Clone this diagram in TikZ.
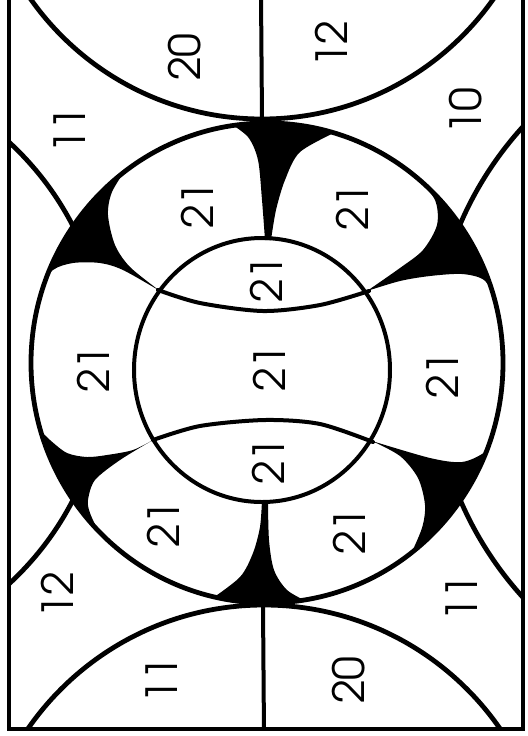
\documentclass[tikz,border=0pt]{standalone}
\usepackage{tikz}
\usetikzlibrary{calc}
\newcommand{\agfont}{\fontencoding{T1}\fontfamily{pag}\fontsize{21.5}{21.5}\selectfont}

\begin{document}
\begin{tikzpicture}[x=0.5pt,y=-0.5pt,
  num/.style={font=\agfont,rotate=90,inner sep=0pt},
  rim/.style={line width=2.4pt},
  seam/.style={line width=2pt,line cap=round}]
  \clip (0,0) rectangle (528,736);
  \begin{scope}
    \clip (9,-10) rectangle (523,729);
    \draw[rim] (262,-164) circle[radius=283];
    \draw[rim] (264,892) circle[radius=287];
    \draw[rim] (-194,363) circle[radius=300];
    \draw[rim] (782,362) circle[radius=350];
    \draw[seam] (261,-5) -- (262,118);
    \draw[seam] (263,605) -- (264,735);
  \end{scope}
  \draw[rim] (9,-10) rectangle (523,729);
  \fill[white] (267,363) ellipse[x radius=236,y radius=240];
  \begin{scope}
    \clip (267,363) ellipse[x radius=236,y radius=240];
    \fill plot[smooth] coordinates {(228,122) (248,137) (258,160) (262,200) (265,240)}
      -- plot[smooth] coordinates {(271,240) (276,210) (285,180) (300,152) (338,131)}
      -- (338,100) -- (228,100) -- cycle;
    \fill plot[smooth] coordinates {(128,166) (112,192) (108,215) (115,245) (130,267) (160,291)}
      -- plot[smooth] coordinates {(160,291) (123,270) (100,263) (73,263) (53,270) (38,290)}
      -- (10,290) -- (90,140) -- cycle;
    \fill plot[smooth] coordinates {(367,291) (400,268) (423,250) (437,225) (435,200) (416,176)}
      -- (440,150) -- (530,280)
      -- plot[smooth] coordinates {(497,300) (484,280) (462,274) (430,276) (400,281) (367,291)} -- cycle;
    \fill plot[smooth] coordinates {(153,440) (133,450) (107,455) (87,457) (67,453) (50,440) (38,428)}
      -- (10,430) -- (80,560)
      -- plot[smooth] coordinates {(100,535) (90,513) (88,500) (95,480) (120,460) (153,440)} -- cycle;
    \fill plot[smooth] coordinates {(372,441) (430,458) (462,462) (485,452) (497,436)}
      -- (530,430) -- (440,580)
      -- plot[smooth] coordinates {(410,556) (422,528) (425,505) (418,478) (400,456) (372,441)} -- cycle;
    \fill plot[smooth] coordinates {(262,500) (260,527) (253,553) (240,577) (210,600)}
      -- (210,620) -- (308,620)
      -- plot[smooth] coordinates {(308,602) (287,590) (274,570) (269,540) (268,500)} -- cycle;
  \end{scope}
  \draw[seam] (262,370) ellipse[x radius=128,y radius=132];
  \draw[seam] plot[smooth] coordinates {(158,290) (200,303) (263,311) (320,305) (369,291)};
  \draw[seam] plot[smooth] coordinates {(153,440) (200,426) (265,420) (320,424) (373,442)};
  \draw[rim] (267,363) ellipse[x radius=236,y radius=240];

  \node[num] (top20) at (185,57) {20};
  \node[num] (top12) at (331,44) {12};
  \node[num] (nw11) at (69,130) {11};
  \node[num] (ne10) at (466,111) {10};
  \node[num] (lobeNW) at (197,205) {21};
  \node[num] (lobeNE) at (352,207) {21};
  \node[num] (capN) at (266,279) {21};
  \node[num] (lobeW) at (93,369) {21};
  \node[num] (core) at (269,368) {21};
  \node[num] (lobeE) at (442,375) {21};
  \node[num] (capS) at (268,461) {21};
  \node[num] (lobeSW) at (163,524) {21};
  \node[num] (lobeSE) at (349,531) {21};
  \node[num] (sw12) at (57,595) {12};
  \node[num] (se11) at (461,598) {11};
  \node[num] (bot11) at (161,680) {11};
  \node[num] (bot20) at (349,680) {20};
\end{tikzpicture}
\end{document}
